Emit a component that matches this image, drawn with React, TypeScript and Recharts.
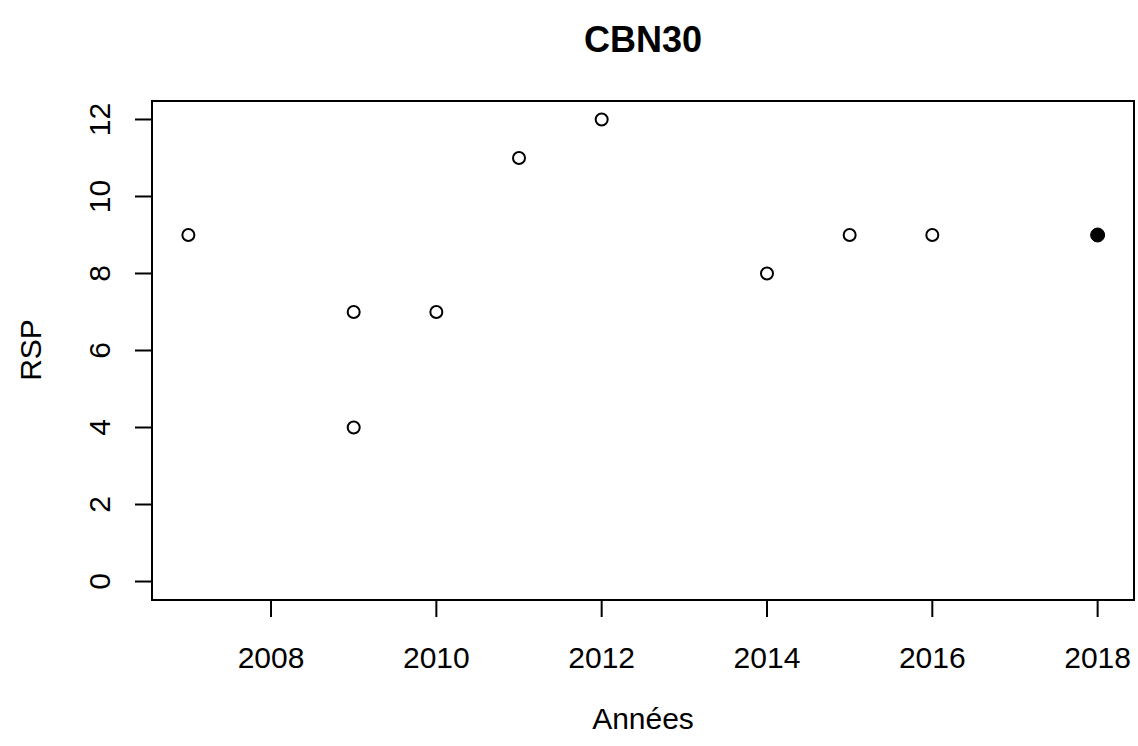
import { ReferenceArea, Scatter, ScatterChart, XAxis, YAxis } from "recharts";

const years = [2007, 2009, 2009, 2010, 2011, 2012, 2014, 2015, 2016];
const rsp = [9, 7, 4, 7, 11, 12, 8, 9, 9];
const currentYear = [2018];
const currentRsp = [9];
const xTicks = [2008, 2010, 2012, 2014, 2016, 2018];
const yTicks = [0, 2, 4, 6, 8, 10, 12];

const FONT = "'Liberation Sans', Arial, Helvetica, sans-serif";
const INK = "#000";

const past = years.map((year, i) => ({ year, rsp: rsp[i] }));
const latest = currentYear.map((year, i) => ({ year, rsp: currentRsp[i] }));

// base-graphics style padding: 4% of the data range on each side
function pad(lo: number, hi: number): [number, number] {
  const d = (hi - lo) * 0.04;
  return [lo - d, hi + d];
}
const xDomain = pad(Math.min(...years, ...currentYear), Math.max(...years, ...currentYear));
const yDomain = pad(0, 12);

function XTick({ x, y, payload }: any) {
  return (
    <text x={x} y={y + 51} textAnchor="middle" fontFamily={FONT} fontSize={30} fill={INK}>
      {payload.value}
    </text>
  );
}

function YTick({ x, y, payload }: any) {
  const bx = x - 25;
  return (
    <text
      x={bx}
      y={y}
      transform={`rotate(-90, ${bx}, ${y})`}
      textAnchor="middle"
      fontFamily={FONT}
      fontSize={30}
      fill={INK}
    >
      {payload.value}
    </text>
  );
}

const openDot = (p: any) => <circle cx={p.cx} cy={p.cy} r={6} fill="none" stroke={INK} strokeWidth={2} />;
const solidDot = (p: any) => <circle cx={p.cx} cy={p.cy} r={7} fill={INK} stroke={INK} strokeWidth={1} />;

export default function App() {
  return (
    <div style={{ position: "absolute", left: 0, top: 0, background: "#fff" }}>
      <ScatterChart width={1138} height={746} margin={{ top: 101, right: 4, bottom: 86, left: 92 }}>
        <XAxis
          type="number"
          dataKey="year"
          domain={xDomain}
          ticks={xTicks}
          allowDataOverflow
          axisLine={false}
          tickLine={{ stroke: INK, strokeWidth: 2 }}
          tickSize={17}
          tickMargin={0}
          tick={<XTick />}
          height={60}
        />
        <YAxis
          type="number"
          dataKey="rsp"
          domain={yDomain}
          ticks={yTicks}
          allowDataOverflow
          axisLine={false}
          tickLine={{ stroke: INK, strokeWidth: 2 }}
          tickSize={17}
          tickMargin={0}
          tick={<YTick />}
          width={60}
        />
        <ReferenceArea
          x1={xDomain[0]}
          x2={xDomain[1]}
          y1={yDomain[0]}
          y2={yDomain[1]}
          fill="none"
          fillOpacity={0}
          stroke={INK}
          strokeWidth={2}
          ifOverflow="extendDomain"
        />
        <Scatter data={past} shape={openDot} isAnimationActive={false} />
        <Scatter data={latest} shape={solidDot} isAnimationActive={false} />
        <text x={643} y={52} textAnchor="middle" fontFamily={FONT} fontSize={36} fontWeight="bold" fill={INK}>
          CBN30
        </text>
        <text x={643} y={729} textAnchor="middle" fontFamily={FONT} fontSize={30} fill={INK}>
          Années
        </text>
        <text
          x={41}
          y={350}
          transform="rotate(-90, 41, 350)"
          textAnchor="middle"
          fontFamily={FONT}
          fontSize={30}
          fill={INK}
        >
          RSP
        </text>
      </ScatterChart>
    </div>
  );
}
